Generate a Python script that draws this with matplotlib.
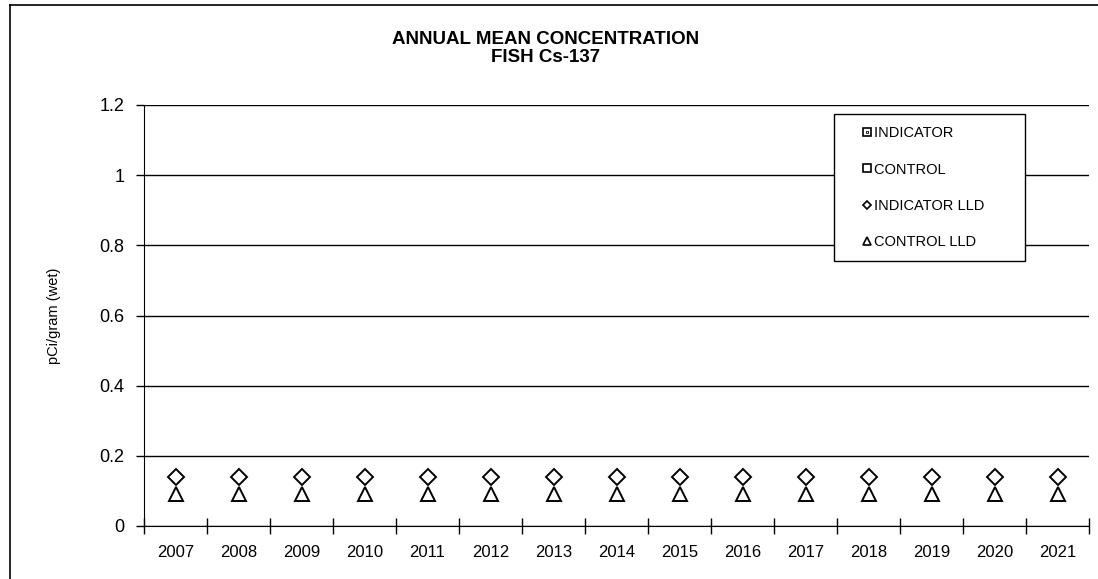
import matplotlib.pyplot as plt
import numpy as np
from matplotlib.lines import Line2D

plt.rcParams['font.family'] = ['Liberation Sans', 'DejaVu Sans']

# Data
years = ['2007', '2008', '2009', '2010', '2011', '2012', '2013', '2014',
         '2015', '2016', '2017', '2018', '2019', '2020', '2021']
indicator = []
control = []
indicator_lld = [0.14, 0.14, 0.14, 0.14, 0.14, 0.14, 0.14, 0.14,
                 0.14, 0.14, 0.14, 0.14, 0.14, 0.14, 0.14]
control_lld = [0.09, 0.09, 0.09, 0.09, 0.09, 0.09, 0.09, 0.09,
               0.09, 0.09, 0.09, 0.09, 0.09, 0.09, 0.09]

W, H = 1098, 579
fig = plt.figure(figsize=(W / 100, H / 100), dpi=100)
ax = fig.add_axes([144 / W, 1 - 526 / H, 945 / W, 421 / H])

x = np.arange(len(years))

# outer chart border (top and left edges only are visible)
fig.add_artist(Line2D([10 / W, 1], [1 - 5 / H, 1 - 5 / H], transform=fig.transFigure,
                      color='black', linewidth=1.2))
fig.add_artist(Line2D([10 / W, 10 / W], [0, 1 - 5 / H], transform=fig.transFigure,
                      color='black', linewidth=1.2))

ax.plot(range(len(indicator)), indicator, linestyle='none', marker='s')
ax.plot(range(len(control)), control, linestyle='none', marker='s')
ax.plot(x, indicator_lld, linestyle='none', marker='D', markersize=8,
        markerfacecolor='white', markeredgecolor='black', markeredgewidth=1.4)
ax.plot(x, control_lld, linestyle='none', marker='^', markersize=10,
        markerfacecolor='white', markeredgecolor='black', markeredgewidth=1.4)

ax.set_xlim(-0.5, len(years) - 0.5)
ax.set_ylim(0, 1.2)
ax.set_yticks([0, 0.2, 0.4, 0.6, 0.8, 1.0, 1.2])
ax.set_yticklabels(['0', '0.2', '0.4', '0.6', '0.8', '1', '1.2'], fontsize=13)
ax.yaxis.grid(True, color='black', linewidth=1.0)
ax.set_axisbelow(True)

ax.set_xticks(x)
ax.set_xticklabels(years, fontsize=12)
ax.tick_params(axis='x', length=0, pad=14)
ax.set_xticks(np.arange(-0.5, len(years)), minor=True)
ax.tick_params(axis='x', which='minor', direction='inout', length=11, width=1)
ax.tick_params(axis='y', direction='out', length=6, width=1, pad=8)

for side in ['top', 'right']:
    ax.spines[side].set_visible(False)

ax.set_ylabel('pCi/gram (wet)', fontsize=10.5)
ax.yaxis.set_label_coords(-0.088, 0.5)

fig.text(0.497, 1 - 40 / H, 'ANNUAL MEAN CONCENTRATION', ha='center', va='center',
         fontsize=13.5, fontweight='bold')
fig.text(0.497, 1 - 58 / H, 'FISH Cs-137', ha='center', va='center',
         fontsize=13.5, fontweight='bold')

mk = dict(linestyle='none', markerfacecolor='white', markeredgecolor='black',
          markeredgewidth=1.2)
h_ind = (Line2D([], [], marker='s', markersize=5.5, **mk),
         Line2D([], [], marker='s', markersize=2, **dict(mk, markeredgewidth=0.6)))
h_con = Line2D([], [], marker='s', markersize=5.5, **mk)
h_illd = Line2D([], [], marker='D', markersize=4.5, **mk)
h_clld = Line2D([], [], marker='^', markersize=6, **mk)
pad = ' ' * 7
leg = ax.legend([h_ind, h_con, h_illd, h_clld],
                ['INDICATOR' + pad, 'CONTROL' + pad, 'INDICATOR LLD' + pad,
                 'CONTROL LLD' + pad],
                loc='upper left', bbox_to_anchor=((834 - 144) / 945, (526 - 114) / 421),
                fontsize=10.5, frameon=True, fancybox=False, edgecolor='black',
                framealpha=1, handlelength=2.8, handletextpad=-0.93,
                labelspacing=1.52, borderpad=0.85, borderaxespad=0)
leg.get_frame().set_linewidth(1.0)

fig.savefig('out.png', dpi=100)
